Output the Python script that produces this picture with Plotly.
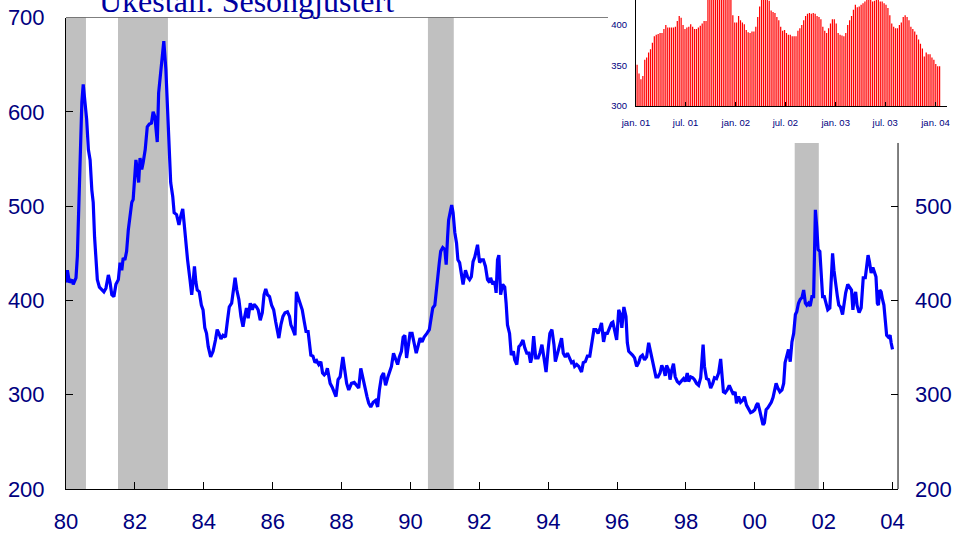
import plotly.graph_objects as go
import pandas as pd

# ---- main series (weekly; decimal years) ----
years = [
 1980.00,1980.04,1980.10,1980.17,1980.21,1980.29,1980.33,1980.39,1980.43,1980.46,1980.50,1980.55,1980.60,1980.65,1980.70,
 1980.75,1980.79,1980.83,1980.87,1980.91,1980.97,1981.04,1981.10,1981.16,1981.23,1981.28,1981.33,1981.39,1981.45,1981.52,
 1981.57,1981.62,1981.66,1981.71,1981.76,1981.81,1981.86,1981.91,1981.95,1981.99,1982.03,1982.07,1982.11,1982.15,1982.20,
 1982.24,1982.30,1982.36,1982.42,1982.48,1982.53,1982.58,1982.65,1982.69,1982.75,1982.81,1982.84,1982.90,1982.94,1983.00,
 1983.04,1983.10,1983.14,1983.21,1983.28,1983.33,1983.39,1983.43,1983.48,1983.53,1983.60,1983.65,1983.69,1983.73,1983.77,
 1983.81,1983.87,1983.93,1983.98,1984.03,1984.08,1984.13,1984.20,1984.27,1984.34,1984.39,1984.44,1984.50,1984.56,1984.63,
 1984.69,1984.74,1984.81,1984.86,1984.91,1984.96,1985.02,1985.08,1985.14,1985.19,1985.24,1985.29,1985.35,1985.41,1985.46,
 1985.53,1985.58,1985.64,1985.70,1985.75,1985.80,1985.85,1985.91,1985.97,1986.03,1986.09,1986.13,1986.18,1986.24,1986.30,
 1986.36,1986.43,1986.49,1986.53,1986.59,1986.65,1986.69,1986.74,1986.80,1986.86,1986.92,1986.97,1987.03,1987.07,1987.11,
 1987.17,1987.23,1987.28,1987.34,1987.40,1987.45,1987.50,1987.55,1987.59,1987.63,1987.67,1987.73,1987.79,1987.84,1987.90,
 1987.96,1988.04,1988.10,1988.15,1988.21,1988.29,1988.37,1988.44,1988.50,1988.56,1988.62,1988.68,1988.74,1988.79,1988.85,
 1988.92,1988.99,1989.05,1989.10,1989.16,1989.22,1989.28,1989.34,1989.39,1989.45,1989.51,1989.57,1989.63,1989.68,1989.74,
 1989.79,1989.84,1989.89,1989.93,1989.99,1990.05,1990.11,1990.17,1990.22,1990.28,1990.34,1990.40,1990.48,1990.55,1990.61,
 1990.65,1990.71,1990.75,1990.79,1990.84,1990.88,1990.94,1991.00,1991.04,1991.08,1991.11,1991.17,1991.20,1991.24,1991.29,
 1991.34,1991.38,1991.43,1991.48,1991.53,1991.60,1991.66,1991.72,1991.77,1991.82,1991.87,1991.95,1992.01,1992.06,1992.12,
 1992.18,1992.24,1992.30,1992.33,1992.39,1992.45,1992.49,1992.53,1992.57,1992.62,1992.68,1992.74,1992.78,1992.82,1992.88,
 1992.93,1992.99,1993.03,1993.09,1993.15,1993.20,1993.27,1993.32,1993.38,1993.44,1993.49,1993.53,1993.58,1993.64,1993.71,
 1993.76,1993.82,1993.88,1993.94,1994.00,1994.05,1994.11,1994.17,1994.21,1994.27,1994.33,1994.39,1994.44,1994.50,1994.56,
 1994.62,1994.68,1994.73,1994.77,1994.83,1994.89,1994.97,1995.02,1995.08,1995.14,1995.21,1995.27,1995.33,1995.39,1995.45,
 1995.51,1995.55,1995.61,1995.66,1995.72,1995.78,1995.84,1995.88,1995.93,1995.99,1996.05,1996.10,1996.14,1996.20,1996.26,
 1996.30,1996.34,1996.40,1996.45,1996.51,1996.57,1996.63,1996.68,1996.74,1996.80,1996.86,1996.92,1996.96,1997.01,1997.07,
 1997.13,1997.19,1997.25,1997.30,1997.36,1997.40,1997.44,1997.50,1997.54,1997.59,1997.64,1997.69,1997.75,1997.81,1997.87,
 1997.93,1997.98,1998.04,1998.08,1998.14,1998.20,1998.25,1998.31,1998.37,1998.43,1998.47,1998.50,1998.54,1998.60,1998.66,
 1998.72,1998.78,1998.83,1998.89,1998.95,1999.01,1999.05,1999.09,1999.14,1999.20,1999.26,1999.32,1999.38,1999.43,1999.47,
 1999.53,1999.59,1999.65,1999.70,1999.76,1999.82,1999.88,1999.94,2000.00,2000.05,2000.09,2000.14,2000.19,2000.24,2000.28,
 2000.33,2000.38,2000.43,2000.48,2000.53,2000.57,2000.62,2000.67,2000.73,2000.79,2000.84,2000.88,2000.93,2000.98,2001.03,
 2001.08,2001.13,2001.18,2001.22,2001.27,2001.32,2001.37,2001.42,2001.47,2001.51,2001.56,2001.61,2001.66,2001.71,2001.74,
 2001.76,2001.80,2001.84,2001.89,2001.93,2001.97,2002.02,2002.07,2002.12,2002.18,2002.22,2002.26,2002.30,2002.35,2002.40,
 2002.44,2002.49,2002.55,2002.59,2002.64,2002.70,2002.76,2002.81,2002.85,2002.89,2002.93,2002.97,2003.03,2003.09,2003.15,
 2003.21,2003.25,2003.29,2003.33,2003.38,2003.43,2003.48,2003.52,2003.56,2003.59,2003.63,2003.67,2003.71,2003.75,2003.79,
 2003.83,2003.88,2003.93,2003.96,2004.00]
values = [
 419,432,419,422,417,424,447,525,570,610,629,610,592,560,549,
 517,504,467,446,422,414,411,409,413,427,419,406,404,417,422,
 440,432,445,443,452,475,489,504,507,525,549,539,525,551,539,
 546,560,584,587,588,600,595,568,620,645,663,675,645,606,570,
 525,510,493,491,480,489,497,482,457,443,422,406,419,436,420,
 411,409,395,390,371,365,351,340,346,358,369,365,359,363,361,
 379,393,397,408,424,411,401,383,372,383,392,381,397,390,396,
 393,390,379,387,406,412,406,404,395,390,377,369,360,374,383,
 387,388,383,374,369,363,409,404,397,390,377,367,367,355,342,
 341,334,336,332,335,323,321,323,328,321,312,308,303,298,316,
 319,340,321,312,305,312,313,310,307,328,316,308,298,291,287,
 292,294,287,305,319,323,310,318,324,330,344,339,332,340,346,
 361,363,339,351,365,365,356,344,351,360,356,361,365,369,383,
 392,395,411,429,440,452,456,454,438,467,485,496,501,493,472,
 461,443,440,425,417,432,425,422,425,441,446,459,440,443,443,
 436,422,419,424,417,420,408,443,448,406,417,414,397,374,365,
 342,346,337,332,351,353,358,350,344,344,334,340,362,339,339,
 344,353,339,324,348,365,369,353,335,344,350,360,344,340,344,
 339,334,335,330,332,330,324,334,335,341,341,353,369,369,365,
 371,376,356,365,365,371,376,377,369,358,390,385,371,393,383,
 355,346,344,342,339,330,334,340,342,337,340,355,348,340,330,
 319,319,323,331,326,320,331,326,316,326,333,319,314,312,314,
 317,314,323,314,319,318,316,312,310,318,340,353,330,317,316,
 307,312,318,317,323,338,319,303,302,305,310,305,300,303,291,
 298,292,294,298,289,284,281,282,284,289,291,284,275,268,270,
 284,286,289,292,297,305,312,307,303,305,312,334,342,348,335,
 356,365,385,388,397,401,403,411,397,395,397,394,404,404,461,
 496,478,454,452,429,404,404,395,390,392,422,450,432,414,404,
 395,393,385,395,408,417,414,411,390,404,409,395,387,392,424,
 424,436,448,441,429,435,429,425,397,395,411,409,401,395,379,
 363,361,363,355,348]

# shaded periods (decimal years)
band_start = [1980.00, 1981.51, 1990.51, 2001.16]
band_end   = [1980.58, 1982.96, 1991.26, 2001.86]

# main axis ticks
main_tickvals = list(range(1980, 2005, 2))
main_ticktext = ["80","82","84","86","88","90","92","94","96","98","00","02","04"]
left_tickvals = [200, 300, 400, 500, 600, 700]
right_tickvals = [200, 300, 400, 500]

# ---- inset series (weekly bars jan. 01 - jan. 04) ----
inset_values = [
 351,340,333,337,357,360,366,370,378,386,388,389,390,390,395,400,397,397,397,397,
 398,405,411,409,400,395,397,398,401,398,395,395,397,399,402,405,405,440,455,470,
 490,496,485,475,458,452,450,448,445,440,412,403,403,411,406,403,401,394,391,390,
 392,392,398,410,423,440,450,446,438,430,418,416,415,410,406,398,393,394,390,388,
 388,386,386,386,393,396,400,406,411,414,415,414,415,414,411,410,407,398,393,390,
 396,402,407,407,402,390,388,387,386,390,400,406,411,419,425,422,423,425,427,429,
 434,438,436,429,430,435,433,429,429,427,425,421,412,402,398,396,396,400,403,410,
 412,410,406,398,395,392,388,382,377,371,361,366,364,364,360,357,352,349,349]
inset_dates = pd.date_range("2001-01-05", periods=len(inset_values), freq="7D")
inset_tickvals = ["2001-01-01","2001-07-01","2002-01-01","2002-07-01","2003-01-01","2003-07-01","2004-01-01"]
inset_ticktext = ["jan. 01","jul. 01","jan. 02","jul. 02","jan. 03","jul. 03","jan. 04"]
inset_yticks = [300, 350, 400]

NAVY = "#000080"
FONT = "Liberation Sans, Arial, sans-serif"

fig = go.Figure()
fig.add_trace(go.Scatter(x=years, y=values, mode="lines",
                         line=dict(color="#0000FF", width=3.2),
                         xaxis="x", yaxis="y", hoverinfo="skip", showlegend=False))
# invisible trace to activate right-hand axis
fig.add_trace(go.Scatter(x=years[:2], y=values[:2], mode="lines", opacity=0,
                         xaxis="x", yaxis="y3", hoverinfo="skip", showlegend=False))
fig.add_trace(go.Bar(x=inset_dates, y=inset_values, marker=dict(color="#FF0000", line=dict(width=0)),
                     xaxis="x2", yaxis="y2", hoverinfo="skip", showlegend=False))

shapes = []
for i, (s, e) in enumerate(zip(band_start, band_end)):
    if i == len(band_start) - 1:
        shapes.append(dict(type="rect", xref="x", yref="paper", x0=s, x1=e, y0=0, y1=0.7076,
                           fillcolor="#C0C0C0", line=dict(width=0), layer="below"))
    else:
        shapes.append(dict(type="rect", xref="x", yref="y", x0=s, x1=e, y0=200, y1=700,
                           fillcolor="#C0C0C0", line=dict(width=0), layer="below"))
# top frame line (stops at the inset) and right frame line
shapes.append(dict(type="line", xref="paper", yref="y", x0=0, x1=0.6152, y0=700, y1=700,
                   line=dict(color="black", width=1)))
shapes.append(dict(type="line", xref="paper", yref="paper", x0=0.9444, x1=0.9444, y0=0, y1=0.7076,
                   line=dict(color="black", width=1)))

fig.update_layout(
    width=960, height=534, autosize=False,
    margin=dict(l=66, r=13, t=0, b=45, pad=0, autoexpand=False),
    paper_bgcolor="white", plot_bgcolor="white",
    bargap=0.36,
    font=dict(family=FONT, color=NAVY),
    shapes=shapes,
    xaxis=dict(domain=[0, 0.9444], range=[1980, 2004.16], tickvals=main_tickvals, ticktext=main_ticktext,
               ticks="inside", ticklen=7, tickcolor="black", showline=True, linecolor="black", linewidth=1,
               showgrid=False, zeroline=False, tickfont=dict(size=22, color=NAVY, family=FONT),
               ticklabelstandoff=13, anchor="y", automargin=False),
    yaxis=dict(domain=[0, 0.9642], range=[200, 700], tickvals=left_tickvals,
               ticks="inside", ticklen=7, tickcolor="black", showline=True, linecolor="black", linewidth=1,
               showgrid=False, zeroline=False, tickfont=dict(size=22, color=NAVY, family=FONT),
               ticklabelstandoff=16, anchor="x", automargin=False),
    yaxis3=dict(overlaying="y", side="right", anchor="x", range=[200, 700], tickvals=right_tickvals,
                ticks="inside", ticklen=7, tickcolor="black", showline=False,
                showgrid=False, zeroline=False, tickfont=dict(size=22, color=NAVY, family=FONT),
                ticklabelstandoff=16, automargin=False),
    xaxis2=dict(domain=[0.6470, 1.0], range=["2001-01-01", "2004-02-12"], type="date",
                tickvals=inset_tickvals, ticktext=inset_ticktext,
                ticks="inside", ticklen=4, tickcolor="black", showline=True, linecolor="black", linewidth=1,
                showgrid=False, zeroline=False, tickfont=dict(size=9.5, color=NAVY, family=FONT),
                ticklabelstandoff=8, anchor="y2", automargin=False),
    yaxis2=dict(domain=[0.7832, 1.0], range=[300, 430.9], tickvals=inset_yticks,
                ticks="", showline=True, linecolor="black", linewidth=1,
                showgrid=False, zeroline=False, tickfont=dict(size=9.5, color=NAVY, family=FONT),
                ticklabelstandoff=6, anchor="x2", automargin=False),
    annotations=[dict(text="Ukestall. Sesongjustert", xref="paper", yref="paper",
                      x=0.0352, y=0.997, xanchor="left", yanchor="middle", showarrow=False,
                      font=dict(family="Liberation Serif, Times New Roman, serif", size=32, color="#0000A0"))],
)

fig.write_html("out.html", config={"displayModeBar": False, "staticPlot": True},
               post_script="document.body.style.margin='0px';document.body.style.overflow='hidden';")
